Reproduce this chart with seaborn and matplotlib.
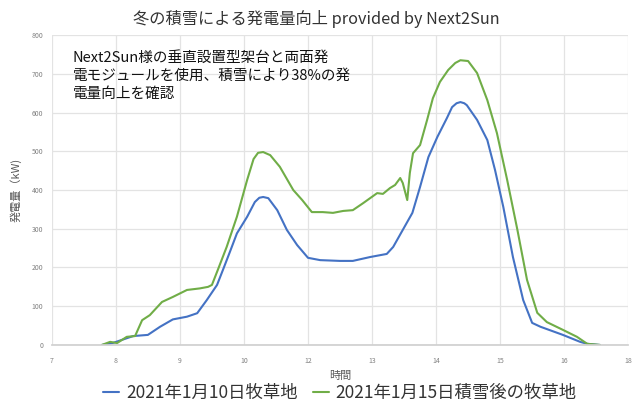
import matplotlib
matplotlib.use("Agg")
import matplotlib.pyplot as plt
import seaborn as sns
import pandas as pd

title = "冬の積雪による発電量向上 provided by Next2Sun"
note = "Next2Sun様の垂直設置型架台と両面発\n電モジュールを使用、積雪により38%の発\n電量向上を確認"
series_names = ["2021年1月10日牧草地", "2021年1月15日積雪後の牧草地"]
x_tick_pos = [7, 8, 9, 10, 11, 12, 13, 14, 15, 16]
x_tick_labels = ["7", "8", "9", "10", "12", "13", "14", "15", "16", "18"]
y_ticks = [0, 100, 200, 300, 400, 500, 600, 700, 800]

blue_t = [7.78, 7.95, 8.27, 8.5, 8.69, 8.89, 9.11, 9.27, 9.42, 9.58, 9.67, 9.78, 9.89,
          10.05, 10.17, 10.24, 10.3, 10.38, 10.52, 10.67, 10.83, 11.0, 11.19, 11.5, 11.7, 11.97,
          12.23, 12.33, 12.48, 12.63, 12.75, 12.88, 13.02, 13.17, 13.25, 13.32, 13.38, 13.44, 13.48,
          13.64, 13.8, 13.92, 14.05, 14.2, 14.36, 14.5, 14.63, 14.98, 15.25, 15.36, 15.56]
blue_kw = [0, 5, 23, 26, 47, 66, 73, 82, 116, 155, 193, 240, 288,
           331, 369, 380, 382, 379, 348, 297, 258, 225, 219, 217, 217, 227,
           235, 253, 297, 341, 408, 485, 537, 586, 614, 624, 627, 624, 619,
           581, 529, 452, 356, 227, 116, 57, 47, 26, 8, 3, 0]

green_t = [7.78, 7.91, 8.02, 8.17, 8.3, 8.41, 8.53, 8.72, 8.89, 9.11, 9.31, 9.44, 9.5,
           9.59, 9.73, 9.89, 10.05, 10.15, 10.22, 10.3, 10.41, 10.56, 10.77, 10.91, 11.06, 11.23,
           11.39, 11.55, 11.7, 11.86, 12.08, 12.17, 12.28, 12.36, 12.44, 12.48, 12.55,
           12.59, 12.64, 12.75, 12.86, 12.95, 13.06, 13.19, 13.3, 13.38, 13.5, 13.64, 13.8,
           13.95, 14.11, 14.27, 14.42, 14.58, 14.73, 14.98, 15.2, 15.36, 15.56]
green_kw = [0, 8, 5, 21, 23, 64, 77, 111, 124, 142, 146, 150, 155,
            193, 253, 331, 426, 480, 496, 498, 490, 460, 400, 374, 343, 343,
            341, 346, 348, 366, 392, 390, 405, 413, 431, 418, 374,
            444, 495, 516, 581, 637, 679, 710, 728, 735, 733, 702, 632,
            547, 426, 297, 168, 83, 59, 39, 21, 3, 0]

colors = ["#4472C4", "#70AD47"]

df = pd.concat([
    pd.DataFrame({"time": blue_t, "kW": blue_kw, "series": series_names[0]}),
    pd.DataFrame({"time": green_t, "kW": green_kw, "series": series_names[1]}),
], ignore_index=True)

sns.set_theme(style="whitegrid")
plt.rcParams["font.family"] = ["Noto Sans CJK JP", "DejaVu Sans"]

fig = plt.figure(figsize=(6.32, 4.03), dpi=100)
ax = fig.add_axes([0.082, 0.144, 0.912, 0.769])

sns.lineplot(data=df, x="time", y="kW", hue="series", palette=colors,
             sort=False, estimator=None, linewidth=1.5, ax=ax)

ax.set_xlim(7, 16)
ax.set_ylim(0, 800)
ax.set_xticks(x_tick_pos)
ax.set_xticklabels(x_tick_labels)
ax.set_yticks(y_ticks)
ax.tick_params(axis="x", labelsize=5, colors="#808080", length=0, pad=9)
ax.tick_params(axis="y", labelsize=5, colors="#808080", length=0, pad=6)
ax.grid(True, color="#e3e3e3", linewidth=0.9)
for s in ["top", "right", "left"]:
    ax.spines[s].set_visible(False)
ax.spines["bottom"].set_color("#d0d0d0")
ax.set_facecolor("white")

ax.set_xlabel("時間", fontsize=8, color="#595959", labelpad=4)
ax.set_ylabel("発電量（kW)", fontsize=8, color="#595959", labelpad=7)

fig.suptitle(title, x=0.5, y=0.975, fontsize=11.7, color="#333333")
ax.text(0.036, 0.948, note, transform=ax.transAxes, fontsize=10.5, color="#111111",
        va="top", ha="left", linespacing=1.37)

handles, labels = ax.get_legend_handles_labels()
ax.legend(handles, labels, loc="center", bbox_to_anchor=(0.5, -0.155),
          ncol=2, frameon=False, fontsize=12.5, handlelength=0.9,
          columnspacing=0.9, handletextpad=0.4, labelcolor="#333333",
          borderpad=0.0)

fig.savefig("out.png", dpi=100, facecolor="white")
